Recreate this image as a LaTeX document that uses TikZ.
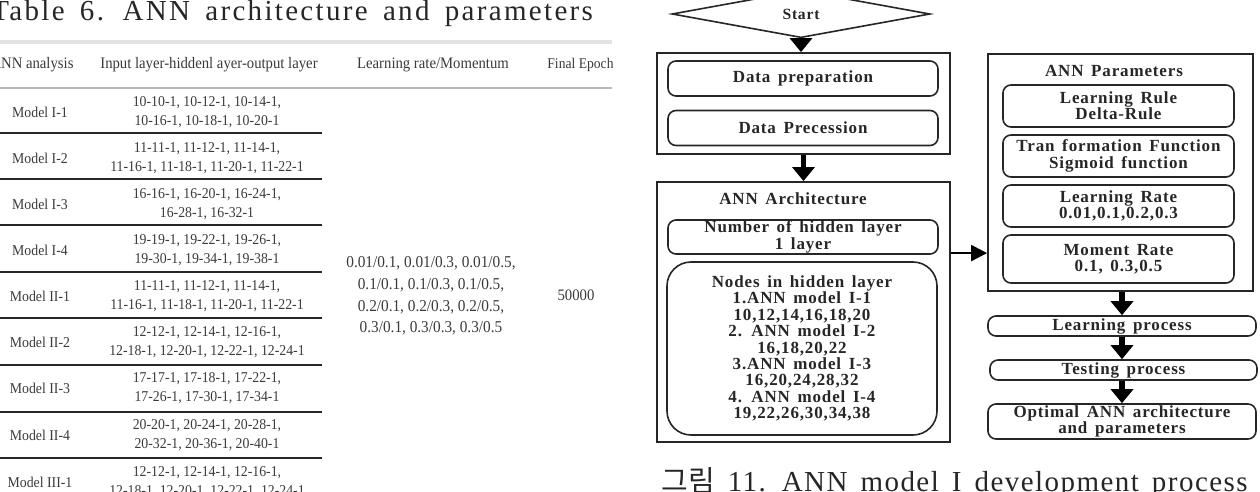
\documentclass[tikz,border=0pt]{standalone}
\usepackage{fontspec}
\setmainfont{Liberation Serif}
\newfontfamily\flowfont[LetterSpace=5]{Liberation Serif}
\newfontfamily\tabfont[FakeStretch=0.92]{Liberation Serif}
\newfontfamily\titlefont[LetterSpace=8,WordSpace=1.6]{Liberation Serif}
\newfontfamily\capfont[LetterSpace=5,WordSpace=1.5]{Liberation Serif}
\newfontfamily\cjk{Noto Sans CJK KR}
\usepackage{xcolor}
\definecolor{inkcolor}{HTML}{262626}
\definecolor{cellcolor}{HTML}{3A3A3A}
\definecolor{topgray}{HTML}{E3E3E3}
\definecolor{headgray}{HTML}{B8B8B8}
\usepackage{tikz}
\usetikzlibrary{arrows.meta, shapes.geometric, calc}

\tikzset{
  titletext/.style={font=\titlefont\fontsize{14.5}{16}\selectfont, text=inkcolor, inner sep=0pt},
  headcell/.style={font=\tabfont\fontsize{8}{9.5}\selectfont, text=cellcolor, inner sep=0pt},
  cell/.style={font=\tabfont\fontsize{7.5}{9.5}\selectfont, text=cellcolor, align=center, inner sep=0pt},
  rowline/.style={draw=inkcolor, line width=1.1pt},
  grpbox/.style={draw=inkcolor, line width=0.9pt, inner sep=0pt},
  grptitle/.style={font=\flowfont\fontsize{8.5}{8.2}\selectfont\bfseries, text=inkcolor, inner sep=0pt},
  stepbox/.style={draw=inkcolor, line width=0.8pt, rounded corners=4pt, align=center, inner sep=0pt,
    font=\flowfont\fontsize{8.5}{8.2}\selectfont\bfseries, text=inkcolor},
  bigarrow/.style={draw=black, line width=2.6pt, -{Triangle[width=11pt,length=7pt]}},
  thinarrow/.style={draw=black, line width=1.1pt, -{Triangle[width=8pt,length=8pt]}}
}

\begin{document}
\begin{tikzpicture}[x=0.5pt, y=-0.5pt]
  \useasboundingbox (0,0) rectangle (1260,492);

  \node[titletext, anchor=base west] (tabtitle) at (-9,21) {Table 6. ANN architecture and parameters};
  \begin{scope}
    \clip (0,0) rectangle (612,492);
    \draw[topgray, line width=1.6pt] (0,42) -- (612,42);
    \draw[headgray, line width=0.8pt] (0,88) -- (612,88);
    \node[headcell] (hdmodel) at (32,65) {ANN analysis};
    \node[headcell] (hdlayer) at (209,65) {Input layer-hiddenl ayer-output layer};
    \node[headcell] (hdrate) at (433,65) {Learning rate/Momentum};
    \node[headcell, font=\tabfont\fontsize{7.4}{9.5}\selectfont, anchor=west] (hdepoch) at (547,65) {Final Epoch};

    \node[cell] (mI1) at (40,112) {Model I-1};
    \node[cell] (lI1) at (207,112) {10-10-1, 10-12-1, 10-14-1,\\10-16-1, 10-18-1, 10-20-1};
    \node[cell] (mI2) at (40,158) {Model I-2};
    \node[cell] (lI2) at (207,158) {11-11-1, 11-12-1, 11-14-1,\\11-16-1, 11-18-1, 11-20-1, 11-22-1};
    \node[cell] (mI3) at (40,204) {Model I-3};
    \node[cell] (lI3) at (207,204) {16-16-1, 16-20-1, 16-24-1,\\16-28-1, 16-32-1};
    \node[cell] (mI4) at (40,250) {Model I-4};
    \node[cell] (lI4) at (207,250) {19-19-1, 19-22-1, 19-26-1,\\19-30-1, 19-34-1, 19-38-1};
    \node[cell] (mII1) at (40,296) {Model II-1};
    \node[cell] (lII1) at (207,296) {11-11-1, 11-12-1, 11-14-1,\\11-16-1, 11-18-1, 11-20-1, 11-22-1};
    \node[cell] (mII2) at (40,342) {Model II-2};
    \node[cell] (lII2) at (207,342) {12-12-1, 12-14-1, 12-16-1,\\12-18-1, 12-20-1, 12-22-1, 12-24-1};
    \node[cell] (mII3) at (40,388) {Model II-3};
    \node[cell] (lII3) at (207,388) {17-17-1, 17-18-1, 17-22-1,\\17-26-1, 17-30-1, 17-34-1};
    \node[cell] (mII4) at (40,435) {Model II-4};
    \node[cell] (lII4) at (207,435) {20-20-1, 20-24-1, 20-28-1,\\20-32-1, 20-36-1, 20-40-1};
    \node[cell] (mIII1) at (40,482) {Model III-1};
    \node[cell] (lIII1) at (207,482) {12-12-1, 12-14-1, 12-16-1,\\12-18-1, 12-20-1, 12-22-1, 12-24-1};

    \foreach \yy in {133,179,225,272,318,365,412,458}
      \draw[rowline] (0,\yy) -- (322,\yy);

    \node[cell, font=\tabfont\fontsize{8.3}{10.8}\selectfont] (rates) at (431,296)
      {0.01/0.1, 0.01/0.3, 0.01/0.5,\\0.1/0.1, 0.1/0.3, 0.1/0.5,\\0.2/0.1, 0.2/0.3, 0.2/0.5,\\0.3/0.1, 0.3/0.3, 0.3/0.5};
    \node[cell, font=\tabfont\fontsize{8}{9.5}\selectfont] (epochs) at (576,295) {50000};
  \end{scope}

  \node[diamond, draw=inkcolor, line width=0.8pt, minimum width=129pt, minimum height=16pt, inner sep=0pt,
    font=\flowfont\fontsize{7.8}{8}\selectfont\bfseries, text=inkcolor] (start) at (801,14) {Start};

  \node[grpbox, minimum width=146.5pt, minimum height=50.5pt] (datagrp) at (803.5,103.5) {};
  \node[stepbox, minimum width=135pt, minimum height=17.5pt] (prep) at (803,78.5) {Data preparation};
  \node[stepbox, minimum width=135pt, minimum height=17.5pt] (proc) at (803,128) {Data Precession};

  \node[grpbox, minimum width=146.5pt, minimum height=130pt] (archgrp) at (803.5,312) {};
  \node[grptitle] (archtitle) at (793,199) {ANN Architecture};
  \node[stepbox, minimum width=135pt, minimum height=17pt] (nhid) at (803,237) {Number of hidden layer\\1 layer};
  \node[stepbox, rounded corners=12pt, minimum width=135pt, minimum height=86.5pt] (hidnodes) at (802,348.5)
    {Nodes in hidden layer\\1.ANN model I-1\\10,12,14,16,18,20\\2. ANN model I-2\\16,18,20,22\\3.ANN model I-3\\16,20,24,28,32\\4. ANN model I-4\\19,22,26,30,34,38};

  \node[grpbox, minimum width=132.5pt, minimum height=118.5pt] (pargrp) at (1120.5,172.5) {};
  \node[grptitle] (partitle) at (1114,71) {ANN Parameters};
  \node[stepbox, minimum width=115.5pt, minimum height=21pt] (lrule) at (1118.5,106) {Learning Rule\\Delta-Rule};
  \node[stepbox, minimum width=115.5pt, minimum height=21pt] (trans) at (1118.5,156) {Tran formation Function\\Sigmoid function};
  \node[stepbox, minimum width=115.5pt, minimum height=21pt] (lrate) at (1118.5,206) {Learning Rate\\0.01,0.1,0.2,0.3};
  \node[stepbox, minimum width=115.5pt, minimum height=24pt] (mrate) at (1118.5,259) {Moment Rate\\0.1, 0.3,0.5};

  \node[stepbox, minimum width=134pt, minimum height=10pt] (learn) at (1122,326) {Learning process};
  \node[stepbox, minimum width=133.5pt, minimum height=10pt] (test) at (1123.5,370) {Testing process};
  \node[stepbox, minimum width=134pt, minimum height=17.5pt] (optimal) at (1122,421.5) {Optimal ANN architecture\\and parameters};

  \draw[bigarrow] (start.south) -- (start.south |- datagrp.north);
  \draw[bigarrow] (datagrp.south) -- (archgrp.north);
  \coordinate (archout) at ($(archgrp.north east)!0.275!(archgrp.south east)$);
  \draw[thinarrow] (archout) -- (archout -| pargrp.west);
  \draw[bigarrow] (learn.north |- pargrp.south) -- (learn.north);
  \draw[bigarrow] (learn.south) -- (learn.south |- test.north);
  \draw[bigarrow] (learn.south |- test.south) -- (learn.south |- optimal.north);

  \node[anchor=base west, inner sep=0pt, text=inkcolor, font=\capfont\fontsize{14.5}{16}\selectfont] (caption) at (661,491)
    {{\cjk 그림} 11. ANN model I development process};
\end{tikzpicture}
\end{document}
